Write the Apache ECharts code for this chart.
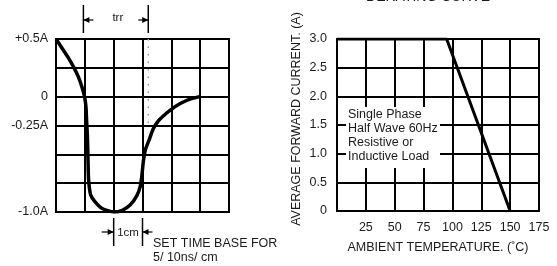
<!DOCTYPE html>
<html>
<head>
<meta charset="utf-8">
<script src="https://cdn.jsdelivr.net/npm/echarts@6/dist/echarts.min.js"></script>
<style>
  html, body { margin: 0; padding: 0; background: #fff; }
  #chart { width: 557px; height: 266px; }
</style>
</head>
<body>
<div id="chart"></div>
<script>
  // reverse recovery waveform (time in cm of screen, current in A)
  var wave_t = [0, 0.21, 0.42, 0.625, 0.78, 0.9, 0.99, 1.04, 1.06, 1.09, 1.11, 1.13, 1.2, 1.35, 1.6, 2.0, 2.3, 2.57, 2.8, 2.92, 2.98, 3.03, 3.1, 3.23, 3.37, 3.55, 3.73, 4.0, 4.31, 4.6, 4.98];
  var wave_i = [0.5, 0.42, 0.34, 0.25, 0.17, 0.083, 0, -0.09, -0.2, -0.35, -0.55, -0.72, -0.85, -0.91, -0.97, -1.0, -0.985, -0.94, -0.86, -0.78, -0.68, -0.56, -0.46, -0.375, -0.28, -0.21, -0.165, -0.11, -0.06, -0.025, 0];
  var trr_t = [0.95, 3.2];
  var dotted_i = [0.5, -0.28];
  var cm_t = [2, 3];
  var waveLabels = {'0.5': '+0.5A', '0': '0', '-0.25': '-0.25A', '-1': '-1.0A'};

  // derating curve
  var temp = [0, 95, 150];
  var amps = [3.0, 3.0, 0];
  var noteLines = ['Single Phase', 'Half Wave 60Hz', 'Resistive or', 'Inductive Load'];

  var font = 'Liberation Sans, Arial, sans-serif';
  var ink = '#1a1a1a';
  var fs = 12.5;

  var chart = echarts.init(document.getElementById('chart'));

  var gridLine = {show: true, lineStyle: {color: '#000', width: 2}};

  chart.setOption({
    animation: false,
    grid: [
      {left: 56, top: 39, width: 173, height: 173, show: true, borderColor: '#000', borderWidth: 2},
      {left: 337, top: 39, width: 202, height: 172, show: true, borderColor: '#000', borderWidth: 2}
    ],
    xAxis: [{
      gridIndex: 0, type: 'value', min: 0, max: 6, interval: 1,
      axisLine: {show: false}, axisTick: {show: false}, axisLabel: {show: false},
      splitLine: gridLine
    }, {
      gridIndex: 1, type: 'value', min: 0, max: 175, interval: 25,
      axisLine: {show: false}, axisTick: {show: false},
      axisLabel: {
        margin: 10, color: ink, fontFamily: font, fontSize: fs,
        formatter: function(v) { return v === 0 ? '' : String(v); }
      },
      splitLine: gridLine,
      name: 'AMBIENT TEMPERATURE. (\u02daC)', nameLocation: 'middle', nameGap: 30,
      nameTextStyle: {color: ink, fontFamily: font, fontSize: fs}
    }],
    yAxis: [{
      gridIndex: 0, type: 'value', min: -1, max: 0.5, interval: 0.25,
      axisLine: {show: false}, axisTick: {show: false},
      axisLabel: {
        margin: 8, color: ink, fontFamily: font, fontSize: fs,
        formatter: function(v) {
          var k = String(Math.round(v * 100) / 100);
          return waveLabels[k] || '';
        }
      },
      splitLine: gridLine
    }, {
      gridIndex: 1, type: 'value', min: 0, max: 3, interval: 0.5,
      axisLine: {show: false}, axisTick: {show: false},
      axisLabel: {
        margin: 10, color: ink, fontFamily: font, fontSize: fs,
        formatter: function(v) { return v === 0 ? '0' : v.toFixed(1); }
      },
      splitLine: gridLine,
      name: 'AVERAGE FORWARD CURRENT. (A)', nameLocation: 'middle', nameGap: 34,
      nameTextStyle: {color: ink, fontFamily: font, fontSize: fs, padding: [0, 0, 0, 12]}
    }],
    series: [{
      type: 'line', xAxisIndex: 0, yAxisIndex: 0, symbol: 'none', smooth: 0.2,
      lineStyle: {color: '#000', width: 3.5},
      data: wave_t.map(function(t, k) { return [t, wave_i[k]]; }),
      z: 5
    }, {
      type: 'line', xAxisIndex: 0, yAxisIndex: 0, symbol: 'none',
      lineStyle: {color: '#999', width: 1.5, type: [1.5, 6]},
      data: dotted_i.map(function(i) { return [trr_t[1], i]; }),
      z: 4
    }, {
      type: 'line', xAxisIndex: 1, yAxisIndex: 1, symbol: 'none',
      lineStyle: {color: '#000', width: 3},
      data: temp.map(function(t, k) { return [t, amps[k]]; }),
      z: 5
    }]
  });

  // annotations placed from data coordinates
  function px(x, y) { return chart.convertToPixel({gridIndex: 0}, [x, y]); }
  var g = [];
  function vline(x, y1, y2) {
    g.push({type: 'line', shape: {x1: x, y1: y1, x2: x, y2: y2}, style: {stroke: '#000', lineWidth: 1.5}, z: 100});
  }
  function arrow(tipX, tailX, y) {
    var d = tailX > tipX ? 1 : -1;
    g.push({type: 'line', shape: {x1: tipX, y1: y, x2: tailX, y2: y}, style: {stroke: '#000', lineWidth: 1.2}, z: 100});
    g.push({type: 'polygon', shape: {points: [[tipX, y], [tipX + d * 6, y - 3], [tipX + d * 6, y + 3]]}, style: {fill: '#000'}, z: 100});
  }
  function text(s, x, y, align, size, vAlign) {
    g.push({type: 'text', x: x, y: y, z: 100, style: {
      text: s, fill: ink, font: size + 'px ' + font, textAlign: align, textVerticalAlign: vAlign || 'middle'
    }});
  }

  var tA = px(trr_t[0], 0)[0], tB = px(trr_t[1], 0)[0];
  vline(tA, 5, 33); vline(tB, 5, 33);
  arrow(tA, tA + 10, 20); arrow(tB, tB - 10, 20);
  text('trr', (tA + tB) / 2 + 2, 18, 'center', 11.5);

  var cA = px(cm_t[0], 0)[0], cB = px(cm_t[1], 0)[0];
  vline(cA, 218, 246); vline(cB, 218, 246);
  arrow(cA, cA - 12, 232); arrow(cB, cB + 10, 232);
  text('1cm', (cA + cB) / 2, 233, 'center', 11.5);
  text('SET TIME BASE FOR', 153, 244, 'left', fs);
  text('5/ 10ns/ cm', 153, 258, 'left', fs);

  text('DERATING CURVE', 428, 4, 'center', 14, 'bottom');

  g.push({type: 'rect', shape: {x: 346, y: 107, width: 94, height: 61}, style: {fill: '#fff'}, z: 99});
  noteLines.forEach(function(s, k) { text(s, 348, 115 + k * 14, 'left', fs); });

  chart.setOption({graphic: g});
</script>
</body>
</html>
